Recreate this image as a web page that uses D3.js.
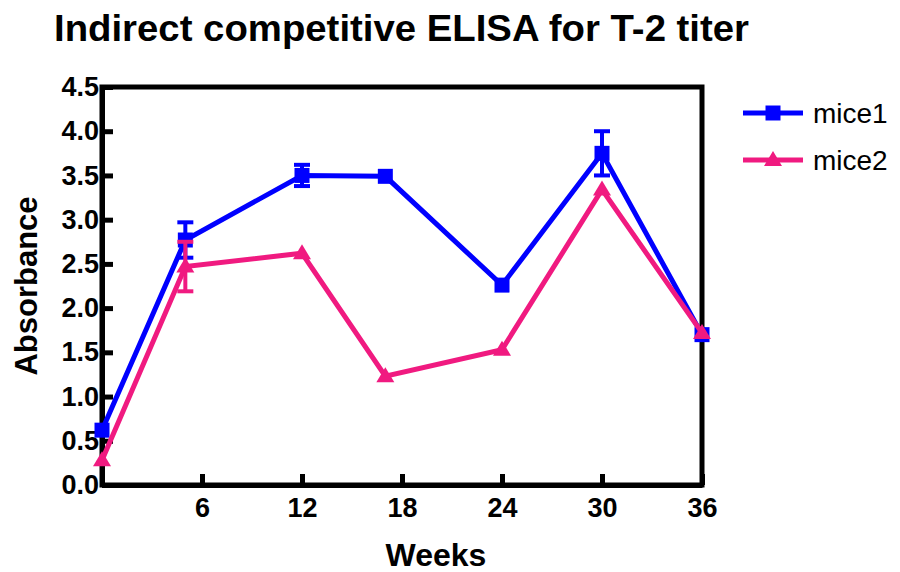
<!DOCTYPE html>
<html>
<head>
<meta charset="utf-8">
<script src="https://cdn.jsdelivr.net/npm/d3@7"></script>
<style>
  body { margin: 0; background: #fff; }
  svg { font-family: "Liberation Sans", Arial, sans-serif; }
</style>
</head>
<body>
<div id="chart"></div>
<script>
// data
const weeks = [0, 5, 12, 17, 24, 30, 36];
const mice1 = [0.62, 2.77, 3.50, 3.49, 2.26, 3.75, 1.70];
const mice1Err = [0, 0.20, 0.12, 0, 0, 0.25, 0];
const mice2 = [0.28, 2.47, 2.62, 1.23, 1.53, 3.34, 1.72];
const mice2Err = [0, 0.28, 0, 0, 0, 0, 0];
const xTicks = [6, 12, 18, 24, 30, 36];
const yTicks = [0, 0.5, 1, 1.5, 2, 2.5, 3, 3.5, 4, 4.5];
const seriesNames = ["mice1", "mice2"];

const W = 900, H = 572;
const margin = { top: 87, right: 198, bottom: 87, left: 102 };
const width = W - margin.left - margin.right;
const height = H - margin.top - margin.bottom;

const blue = "#0000FF";
const pink = "#F01A80";

const svg = d3.select("#chart").append("svg")
    .attr("width", W)
    .attr("height", H);

const g = svg.append("g")
    .attr("transform", `translate(${margin.left},${margin.top})`);

const x = d3.scaleLinear().domain([0, 36]).range([0, width]);
const y = d3.scaleLinear().domain([0, 4.5]).range([height, 0]);

// title
svg.append("text")
    .attr("x", 54)
    .attr("y", 41)
    .attr("font-size", 36)
    .attr("font-weight", "bold")
    .attr("textLength", 695)
    .attr("lengthAdjust", "spacingAndGlyphs")
    .text("Indirect competitive ELISA for T-2 titer");

// frame
g.append("rect")
    .attr("x", 0).attr("y", 0)
    .attr("width", width).attr("height", height)
    .attr("fill", "none")
    .attr("stroke", "#000")
    .attr("stroke-width", 5);

// axes
const xAxis = g.append("g")
    .attr("transform", `translate(0,${height})`)
    .call(d3.axisBottom(x).tickValues(xTicks).tickSizeInner(-11).tickSizeOuter(0).tickPadding(13));

const yAxis = g.append("g")
    .call(d3.axisLeft(y).tickValues(yTicks).tickFormat(d3.format(".1f"))
        .tickSizeInner(-11).tickSizeOuter(0).tickPadding(3));

[xAxis, yAxis].forEach(a => {
    a.select(".domain").attr("stroke", "#000").attr("stroke-width", 5);
    a.selectAll(".tick line").attr("stroke", "#000").attr("stroke-width", 5);
    a.selectAll(".tick text")
        .attr("fill", "#000")
        .attr("font-size", 27)
        .attr("font-weight", "bold")
        .attr("font-family", "'Liberation Sans', Arial, sans-serif");
});

// axis titles
svg.append("text")
    .attr("x", 436)
    .attr("y", 566)
    .attr("text-anchor", "middle")
    .attr("font-size", 32)
    .attr("font-weight", "bold")
    .text("Weeks");

svg.append("text")
    .attr("transform", `translate(37,${margin.top + height / 2}) rotate(-90)`)
    .attr("text-anchor", "middle")
    .attr("font-size", 31)
    .attr("font-weight", "bold")
    .text("Absorbance");

const line = d3.line()
    .x(d => x(d.w))
    .y(d => y(d.v));

const squarePath = s => `M${-s / 2},${-s / 2}h${s}v${s}h${-s}Z`;
const trianglePath = (w, h) => `M0,${-h * 0.6}L${w / 2},${h * 0.4}L${-w / 2},${h * 0.4}Z`;

const series = [
    { name: seriesNames[0], values: mice1, err: mice1Err, color: blue, marker: squarePath(15) },
    { name: seriesNames[1], values: mice2, err: mice2Err, color: pink, marker: trianglePath(18, 15) }
];

series.forEach(s => {
    const pts = weeks.map((w, i) => ({ w: w, v: s.values[i], e: s.err[i] }));
    const sg = g.append("g");

    sg.append("path")
        .datum(pts)
        .attr("d", line)
        .attr("fill", "none")
        .attr("stroke", s.color)
        .attr("stroke-width", 5)
        .attr("stroke-linejoin", "miter");

    const eb = sg.selectAll(".err")
        .data(pts.filter(d => d.e > 0))
        .enter().append("g")
        .attr("stroke", s.color)
        .attr("stroke-width", 4);
    eb.append("line")
        .attr("x1", d => x(d.w)).attr("x2", d => x(d.w))
        .attr("y1", d => y(d.v - d.e)).attr("y2", d => y(d.v + d.e));
    eb.append("line")
        .attr("x1", d => x(d.w) - 8).attr("x2", d => x(d.w) + 8)
        .attr("y1", d => y(d.v + d.e)).attr("y2", d => y(d.v + d.e));
    eb.append("line")
        .attr("x1", d => x(d.w) - 8).attr("x2", d => x(d.w) + 8)
        .attr("y1", d => y(d.v - d.e)).attr("y2", d => y(d.v - d.e));

    sg.selectAll(".pt")
        .data(pts)
        .enter().append("path")
        .attr("d", s.marker)
        .attr("transform", d => `translate(${x(d.w)},${y(d.v)})`)
        .attr("fill", s.color);
});

// legend
const legend = svg.append("g").attr("transform", "translate(743,113)");
series.forEach((s, i) => {
    const lg = legend.append("g").attr("transform", `translate(0,${i * 47})`);
    lg.append("line")
        .attr("x1", 0).attr("x2", 60)
        .attr("stroke", s.color).attr("stroke-width", 5);
    lg.append("path")
        .attr("d", s.marker)
        .attr("transform", "translate(30,0)")
        .attr("fill", s.color);
    lg.append("text")
        .attr("x", 70)
        .attr("y", 10)
        .attr("font-size", 28)
        .text(s.name);
});
</script>
</body>
</html>
